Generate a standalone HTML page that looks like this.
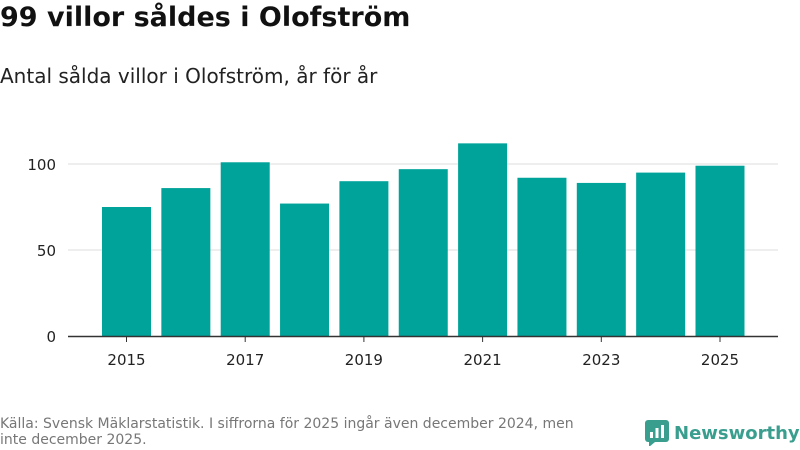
<!DOCTYPE html>
<html><head><meta charset="utf-8"><style>
body{margin:0;width:800px;height:450px;background:#fff;font-family:"DejaVu Sans","Liberation Sans",sans-serif;overflow:hidden;position:relative}
#title{position:absolute;left:0;top:2px;font-size:27px;font-weight:bold;color:#111}
#sub{position:absolute;left:0;top:64px;font-size:20px;color:#222}
#src{position:absolute;left:0;top:416px;font-size:14px;color:#777;line-height:16px;width:600px}
#logo{position:absolute;left:645px;top:420px;font-size:18px;font-weight:bold;color:#3a9e8f;display:flex;align-items:center;gap:5px}
</style></head><body>
<div id="title">99 villor såldes i Olofström</div>
<div id="sub">Antal sålda villor i Olofström, år för år</div>
<svg id="chart" width="800" height="450" style="position:absolute;left:0;top:0"></svg>
<div id="src">Källa: Svensk Mäklarstatistik. I siffrorna för 2025 ingår även december 2024, men inte december 2025.</div>
<div id="logo"><svg width="24" height="26"><rect x="0" y="0" width="24" height="22" rx="3" fill="#3a9e8f"/><polygon points="4,22 10,22 4,27" fill="#3a9e8f"/><rect x="5" y="12" width="3" height="6" fill="#fff"/><rect x="10.5" y="8" width="3" height="10" fill="#fff"/><rect x="16" y="5" width="3" height="13" fill="#fff"/></svg>Newsworthy</div>
<script>
const years=[2015,2016,2017,2018,2019,2020,2021,2022,2023,2024,2025];
const values=[75,86,101,77,90,97,112,92,89,95,99];
const yTicks=[0,50,100];
const xLabels=[2015,2017,2019,2021,2023,2025];
const svg=document.getElementById('chart');const NS='http://www.w3.org/2000/svg';
const y0=336,pxPer=1.72,x0=126.5,step=59.35,bw=49;
const Y=v=>y0-v*pxPer;const X=i=>x0+i*step;
function mk(t,a){const e=document.createElementNS(NS,t);for(const k in a)e.setAttribute(k,a[k]);svg.appendChild(e);return e;}
yTicks.forEach(t=>{
 if(t>0){const l=mk('line',{x1:68,x2:778,y1:Y(t),y2:Y(t),stroke:'#ddd','stroke-width':1});
 
 }
 const tx=mk('text',{x:56,y:Y(t)+6,'text-anchor':'end','font-size':15,fill:'#222'});tx.textContent=t;
 
 
});
values.forEach((v,i)=>{
 const r=mk('rect',{x:X(i)-bw/2,y:Y(v),width:bw,height:v*pxPer,fill:'#00a39a'});
 
 
});
const ax=mk('line',{x1:68,x2:778,y1:y0+0.5,y2:y0+0.5,stroke:'#333','stroke-width':1.5});


xLabels.forEach(yr=>{
 const i=years.indexOf(yr);
 const tk=mk('line',{x1:X(i),x2:X(i),y1:y0,y2:y0+6,stroke:'#333'});
 
 
 const tx=mk('text',{x:X(i),y:y0+29,'text-anchor':'middle','font-size':15,fill:'#222'});tx.textContent=yr;
 
 
});
</script>
</body></html>
